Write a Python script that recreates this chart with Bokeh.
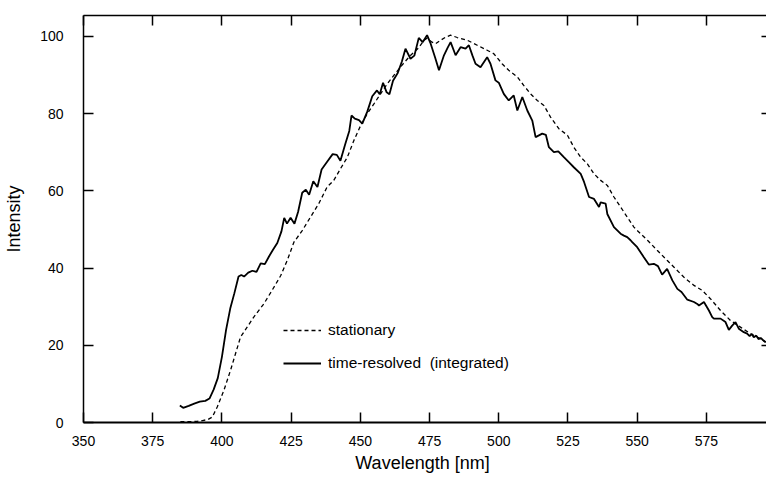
from bokeh.plotting import figure
from bokeh.models import (LinearAxis, Range1d, FixedTicker, Legend, LegendItem,
                          CustomJSTickFormatter)
from bokeh.embed import file_html
from bokeh.resources import INLINE

# ---------------- data ----------------
x_ticks = [350, 375, 400, 425, 450, 475, 500, 525, 550, 575]
y_ticks = [0, 20, 40, 60, 80, 100]

tr_wavelength = [
    384.8, 386.0, 388.0, 390.0, 392.0, 394.0, 395.5, 397.0, 398.5, 400.0,
    401.5, 403.0, 404.5, 406.0, 407.0, 408.0, 409.5, 411.0, 412.5, 414.0,
    415.5, 417.0, 418.5, 420.0, 421.5, 422.5, 423.5, 424.8, 426.2, 427.5,
    429.0, 430.3, 431.5, 433.0, 434.5, 436.0, 438.0, 440.0, 441.5, 442.8,
    444.5, 446.0, 446.8, 448.0, 449.5, 450.7, 452.5, 454.3, 456.0, 457.0,
    458.2, 459.5, 460.5, 461.8, 463.5, 465.0, 466.3, 468.1, 469.5, 471.1,
    472.5, 474.1, 475.4, 477.0, 478.4, 480.2, 481.5, 482.6, 484.4, 486.2,
    488.0, 489.2, 490.5, 491.6, 493.4, 495.8, 497.0, 498.8, 500.0, 501.8,
    503.6, 505.4, 506.7, 508.5, 510.3, 512.1, 513.3, 515.7, 517.0, 518.1,
    519.9, 521.5, 523.5, 525.3, 527.1, 529.6, 530.8, 532.6, 534.4, 536.2,
    536.8, 538.6, 539.2, 541.6, 544.0, 545.2, 546.4, 547.6, 548.2, 550.0,
    552.4, 554.2, 556.0, 557.5, 559.0, 560.8, 562.7, 564.5, 566.0, 568.1,
    570.5, 571.7, 572.3, 574.1, 575.9, 577.1, 577.7, 580.1, 581.9, 583.1,
    584.3, 585.5, 586.7, 588.5, 589.7, 590.6, 591.4, 592.1, 593.0, 593.8,
    594.6, 595.5, 596.4]
tr_intensity = [
    4.4, 3.8, 4.3, 4.9, 5.4, 5.6, 6.2, 8.5, 11.5, 17.0,
    24.0, 29.5, 33.5, 37.8, 38.2, 37.8, 38.8, 39.3, 39.0, 41.2,
    41.0, 43.0, 44.8, 46.5, 49.5, 53.0, 51.5, 53.0, 51.5, 54.5,
    59.5, 60.3, 59.0, 62.5, 61.0, 65.5, 67.5, 69.5, 69.3, 67.8,
    72.0, 75.5, 79.5, 78.7, 78.3, 77.4, 80.5, 84.5, 86.0, 85.0,
    88.0, 85.5, 85.0, 88.5, 90.5, 93.5, 96.8, 94.2, 95.0, 99.6,
    98.5, 100.3, 98.1, 94.5, 91.2, 95.1, 97.0, 98.5, 95.1, 97.2,
    96.8, 97.7, 95.0, 92.9, 92.0, 94.6, 92.9, 88.6, 88.0, 85.1,
    83.4, 84.7, 80.8, 84.3, 80.8, 78.2, 73.9, 74.8, 74.5, 71.3,
    70.0, 70.2, 68.7, 67.4, 66.1, 64.4, 62.3, 58.4, 57.9, 55.8,
    57.0, 56.7, 54.0, 50.6, 48.9, 48.4, 48.0, 47.2, 46.7, 45.4,
    42.8, 40.9, 41.1, 40.5, 38.3, 39.8, 36.8, 34.6, 33.8, 31.8,
    31.2, 30.7, 30.3, 31.2, 29.0, 27.3, 26.9, 26.9, 26.0, 24.0,
    25.1, 26.0, 24.3, 23.4, 23.0, 22.4, 22.9, 22.1, 22.5, 21.6,
    21.9, 21.3, 20.8]

st_wavelength = [
    385.0, 388.0, 391.0, 393.0, 395.0, 396.5, 398.3, 400.7, 403.1, 404.9,
    406.7, 409.1, 411.5, 415.1, 418.1, 421.2, 423.6, 426.0, 429.0, 432.0,
    435.0, 438.0, 440.4, 442.8, 445.3, 447.7, 450.1, 452.5, 454.9, 457.3,
    459.7, 462.1, 465.0, 468.0, 471.0, 473.0, 474.1, 475.9, 477.2, 479.0,
    480.8, 482.6, 485.0, 488.6, 492.2, 495.8, 498.2, 501.2, 503.6, 506.7,
    509.0, 511.5, 513.9, 516.3, 518.7, 521.7, 524.8, 527.1, 529.6, 532.0,
    534.4, 536.8, 539.2, 541.6, 544.0, 546.4, 548.8, 551.2, 553.7, 557.2,
    560.8, 563.3, 566.9, 570.5, 573.5, 576.5, 580.1, 583.7, 587.3, 590.9,
    594.6, 596.4]
st_intensity = [
    0.2, 0.2, 0.3, 0.5, 0.8, 1.4, 4.0, 8.3, 13.5, 17.8,
    22.1, 24.7, 27.3, 30.7, 34.2, 38.0, 42.0, 46.7, 49.7, 53.2,
    56.7, 61.0, 62.7, 65.7, 68.7, 73.1, 76.9, 80.0, 82.5, 85.1,
    87.7, 89.9, 92.5, 95.0, 97.0, 99.0, 99.5, 98.5, 98.1, 99.0,
    99.8, 100.3, 99.7, 99.0, 97.7, 96.4, 95.5, 92.9, 91.2, 89.5,
    87.3, 85.1, 83.4, 82.1, 79.1, 76.1, 74.4, 71.3, 68.7, 67.0,
    64.4, 62.7, 61.4, 58.4, 55.8, 53.2, 50.6, 48.9, 47.2, 44.6,
    42.0, 40.2, 37.6, 35.5, 34.2, 32.0, 29.0, 26.4, 24.7, 23.0,
    21.7, 20.8]

legend_labels = ["stationary", "time-resolved  (integrated)"]

# ---------------- figure ----------------
FONT = "Liberation Sans"

p = figure(width=766, height=481, output_backend="svg", toolbar_location=None,
           x_range=Range1d(350, 596.7), y_range=Range1d(0, 105.4),
           x_axis_location=None, y_axis_location=None,
           min_border_left=83, min_border_right=0,
           min_border_top=15, min_border_bottom=59)
p.outline_line_color = None
p.xgrid.visible = False
p.ygrid.visible = False
p.background_fill_color = "white"
p.border_fill_color = "white"

empty = CustomJSTickFormatter(code="return '';")

def style_axis(ax, labels=True, tick_in=10, line_width=1.5):
    ax.axis_line_color = "black"
    ax.axis_line_width = line_width
    ax.major_tick_line_color = "black"
    ax.major_tick_line_width = 1.5
    ax.major_tick_in = tick_in
    ax.major_tick_out = 0
    ax.minor_tick_line_color = None
    if labels:
        ax.major_label_text_font = FONT
        ax.major_label_text_font_size = "14px"
        ax.major_label_text_color = "black"
        ax.axis_label_text_font = FONT
        ax.axis_label_text_font_size = "18px"
        ax.axis_label_text_font_style = "normal"
        ax.axis_label_text_color = "black"
    else:
        ax.formatter = empty
        ax.major_label_text_font_size = "0px"
        ax.major_label_standoff = 0

bottom = LinearAxis(ticker=FixedTicker(ticks=x_ticks), axis_label="Wavelength  [nm]")
style_axis(bottom, line_width=2)
bottom.major_label_standoff = 13
bottom.axis_label_standoff = 4
p.add_layout(bottom, "below")

left = LinearAxis(ticker=FixedTicker(ticks=y_ticks), axis_label="Intensity")
style_axis(left)
left.major_label_standoff = 20
left.axis_label_standoff = 13
p.add_layout(left, "left")

top = LinearAxis(ticker=FixedTicker(ticks=x_ticks))
style_axis(top, labels=False)
p.add_layout(top, "above")

right = LinearAxis(ticker=FixedTicker(ticks=y_ticks[1:]))
style_axis(right, labels=False, tick_in=5)
right.axis_line_color = None
p.add_layout(right, "right")

r_st = p.line(st_wavelength, st_intensity, line_color="black", line_width=1.3,
              line_dash="4 3")
r_tr = p.line(tr_wavelength, tr_intensity, line_color="black", line_width=1.8)

legend = Legend(items=[LegendItem(label=legend_labels[0], renderers=[r_st]),
                       LegendItem(label=legend_labels[1], renderers=[r_tr])],
                location=(200, 49), orientation="vertical",
                glyph_width=38, glyph_height=20, label_height=20,
                label_standoff=7, spacing=13, padding=0, margin=0,
                border_line_color=None, background_fill_alpha=0,
                label_text_font=FONT, label_text_font_size="15.5px",
                label_text_color="black")
p.add_layout(legend, "center")

open("out.html", "w").write(file_html(p, INLINE))
